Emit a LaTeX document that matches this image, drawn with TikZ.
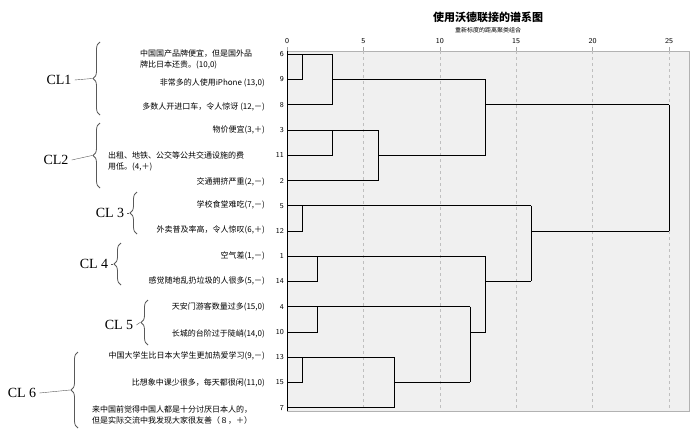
\documentclass[tikz,border=0pt]{standalone}
\usepackage{fontspec}
\setmainfont{Liberation Serif}
\newfontfamily\cjk{Noto Sans CJK SC}
\usetikzlibrary{decorations.pathreplacing}
\begin{document}
\begin{tikzpicture}[x=1pt,y=-1pt,
  item/.style={font=\cjk\fontsize{8}{11}\selectfont,inner sep=0pt},
  cl/.style={font=\fontsize{14}{14}\selectfont,inner sep=0pt},
  brc/.style={decorate,decoration={brace,amplitude=7pt},gray!70!black,thick},
  leaf/.style={font=\sffamily\fontsize{7.5}{8}\selectfont,inner sep=0pt,anchor=east},
  dend/.style={line width=0.7pt}]
\useasboundingbox (0,0) rectangle (700,434);
% titles
\node[font=\cjk\bfseries\fontsize{11}{12}\selectfont] (title) at (488,17) {使用沃德联接的谱系图};
\node[font=\cjk\fontsize{6}{7}\selectfont] (sub) at (488,30) {重新标度的距离聚类组合};
% dendrogram
\begin{scope}[shift={(287,0)},x=15.28pt]
\fill[gray!12] (0,51) rectangle (26.3,411);
\draw[gray!60] (0,51) rectangle (26.3,411);
\draw[line width=1pt] (0,51) -- (0,411);
\foreach \d in {5,10,15,20,25}
  \draw[gray!50,dashed] (\d,51) -- (\d,411);
\foreach \d in {0,5,...,25} {
  \draw[gray!70] (\d,47) -- (\d,51);
  \node[font=\sffamily\fontsize{7.5}{8}\selectfont] (t\d) at (\d,41) {\d};
}
\draw[dend] (3,54.3) -- (1,54.3) (0,54.3) -- (1,54.3) -- (1,79.5) -- (0,79.5);
\draw[dend] (3,54.3) -- (3,104.8) -- (0,104.8) (3,79.5) -- (13,79.5);
\draw[dend] (0,130) -- (6,130) (0,155.3) -- (3,155.3) -- (3,130);
\draw[dend] (0,180.5) -- (6,180.5) -- (6,130) (6,155.3) -- (13,155.3);
\draw[dend] (13,79.5) -- (13,155.3) (13,104.8) -- (25,104.8);
\draw[dend] (0,205.7) -- (16,205.7) (0,231) -- (1,231) -- (1,205.7);
\draw[dend] (0,256.2) -- (13,256.2) (0,281.4) -- (2,281.4) -- (2,256.2);
\draw[dend] (0,306.7) -- (12,306.7) (0,331.9) -- (2,331.9) -- (2,306.7);
\draw[dend] (0,357.2) -- (7,357.2) (0,382.4) -- (1,382.4) -- (1,357.2);
\draw[dend] (0,407.7) -- (7,407.7) -- (7,357.2) (7,382.4) -- (12,382.4);
\draw[dend] (12,306.7) -- (12,382.4) (12,331.9) -- (13,331.9);
\draw[dend] (13,256.2) -- (13,331.9) (13,281.4) -- (16,281.4);
\draw[dend] (16,205.7) -- (16,281.4) (16,231) -- (25,231);
\draw[dend] (25,104.8) -- (25,231);
\end{scope}
% leaf numbers
\foreach \n/\y in {6/54.3,9/79.5,8/104.8,3/130,11/155.3,2/180.5,5/205.7,12/231,
  1/256.2,14/281.4,4/306.7,10/331.9,13/357.2,15/382.4,7/407.7}
  \node[leaf] (n\n) at (284,\y) {\n};
% items
\node[item,anchor=west,align=left] (a10) at (140,59) {中国国产品牌便宜，但是国外品\\牌比日本还贵。(10,0)};
\node[item,anchor=east] (a13) at (265,83) {非常多的人使用iPhone (13,0)};
\node[item,anchor=east] (a12) at (265,107) {多数人开进口车，令人惊讶 (12,－)};
\node[item,anchor=east] (a3) at (265,130) {物价便宜(3,＋)};
\node[item,anchor=west,align=left] (a4) at (108,161) {出租、地铁、公交等公共交通设施的费\\用低。(4,＋)};
\node[item,anchor=east] (a2) at (265,182) {交通拥挤严重(2,－)};
\node[item,anchor=east] (a7) at (265,205) {学校食堂难吃(7,－)};
\node[item,anchor=east] (a6) at (265,230) {外卖普及率高，令人惊叹(6,＋)};
\node[item,anchor=east] (a1) at (265,256) {空气差(1,－)};
\node[item,anchor=east] (a5) at (265,281) {感觉随地乱扔垃圾的人很多(5,－)};
\node[item,anchor=east] (a15) at (265,307) {天安门游客数量过多(15,0)};
\node[item,anchor=east] (a14) at (265,334) {长城的台阶过于陡峭(14,0)};
\node[item,anchor=east] (a9) at (265,356) {中国大学生比日本大学生更加热爱学习(9,－)};
\node[item,anchor=east] (a11) at (265,383) {比想象中课少很多，每天都很闲(11,0)};
\node[item,anchor=west,align=left] (a8) at (92,415) {来中国前觉得中国人都是十分讨厌日本人的，\\但是实际交流中我发现大家很友善（８，＋）};
% clusters
\node[cl] (cl1) at (59,80) {CL1};
\node[cl] (cl2) at (56,160) {CL2};
\node[cl] (cl3) at (110,213) {CL 3};
\node[cl] (cl4) at (94,264) {CL 4};
\node[cl] (cl5) at (119,325) {CL 5};
\node[cl] (cl6) at (22,393) {CL 6};
\draw[brc] (100,115) -- (100,42);
\draw[brc] (100,188) -- (100,123);
\draw[brc] (137,234) -- (137,192);
\draw[brc] (121,285) -- (121,243);
\draw[brc] (148,345) -- (148,300);
\draw[brc] (78,428) -- (78,352);
\coordinate (b1) at (92,78.5);
\coordinate (b2) at (92,155.5);
\coordinate (b3) at (129,213);
\coordinate (b4) at (113,264);
\coordinate (b5) at (140,322.5);
\coordinate (b6) at (70,390);
\foreach \i in {1,...,6}
  \draw[gray!70!black] (cl\i.east) ++(3,0) -- (b\i);
\end{tikzpicture}
\end{document}
